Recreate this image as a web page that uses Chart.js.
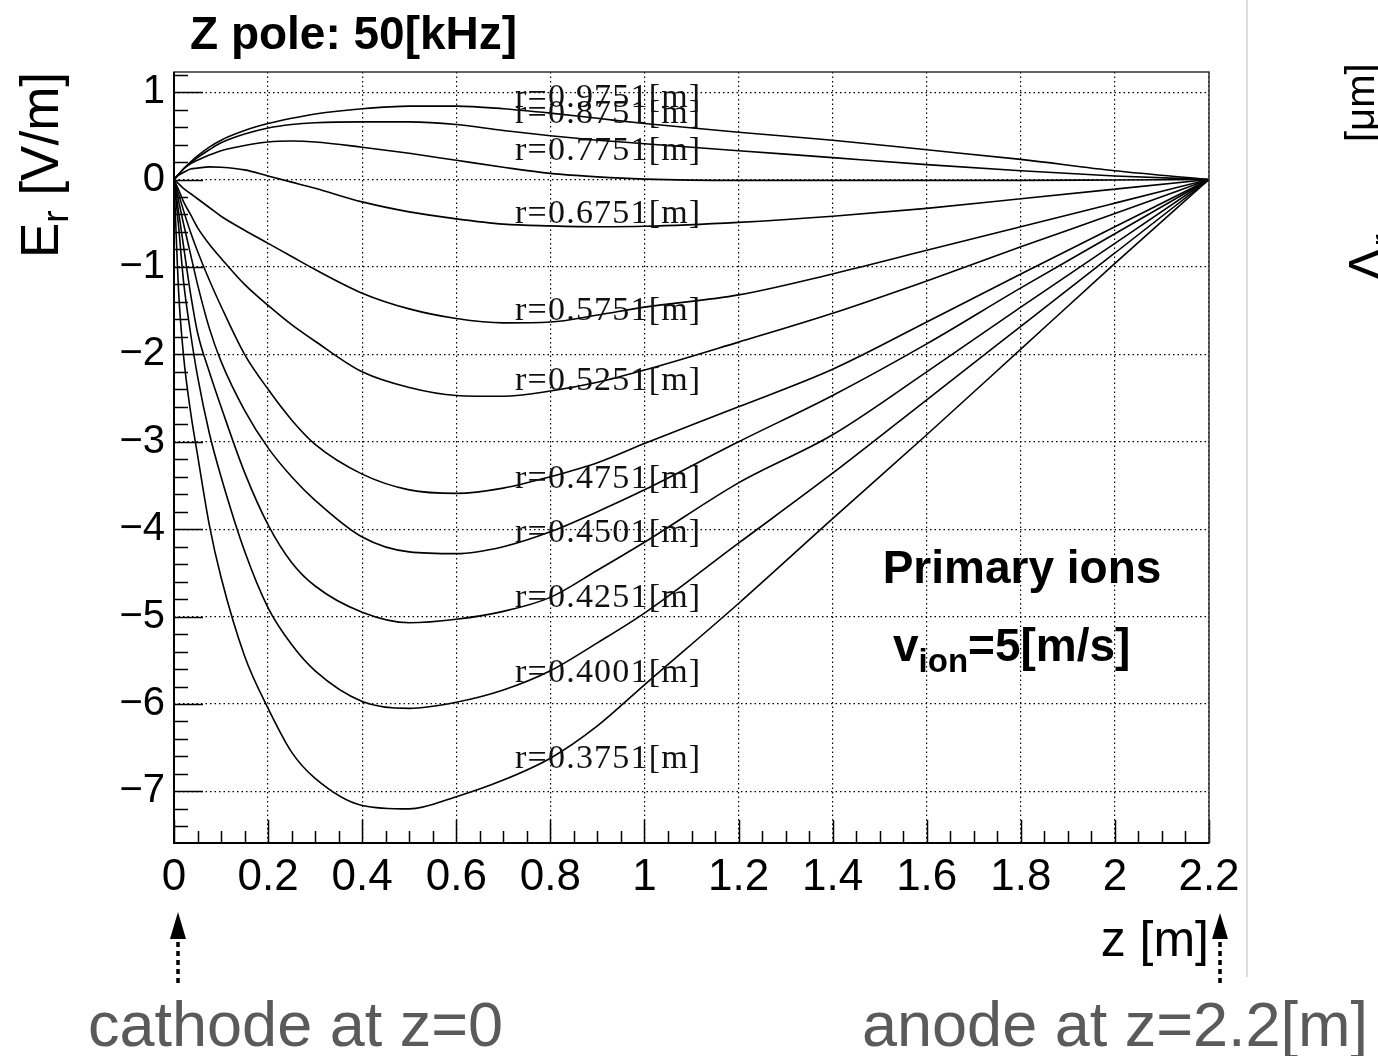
<!DOCTYPE html>
<html><head><meta charset="utf-8">
<script src="https://cdn.jsdelivr.net/npm/chart.js@4.4.1/dist/chart.umd.min.js"></script>
<style>html,body{margin:0;padding:0;background:#fff;} #wrap{position:relative;width:1378px;height:1056px;}</style>
</head><body><div id="wrap"><canvas id="c" width="1378" height="1056"></canvas></div>
<script>
// ---- data (z in m, E_r in V/m) ----
const zValues = [0, 0.01, 0.02, 0.035, 0.05, 0.075, 0.1, 0.15, 0.2, 0.25, 0.3, 0.4, 0.5, 0.6, 0.7, 0.8, 0.9, 1.0, 1.2, 1.4, 1.6, 1.8, 2.0, 2.2];
const er_r09751 = [0, 0.06, 0.12, 0.20, 0.27, 0.37, 0.45, 0.56, 0.64, 0.70, 0.75, 0.81, 0.84, 0.84, 0.81, 0.76, 0.70, 0.64, 0.54, 0.45, 0.34, 0.23, 0.10, 0];
const er_r08751 = [0, 0.06, 0.12, 0.19, 0.25, 0.34, 0.42, 0.52, 0.59, 0.63, 0.65, 0.66, 0.66, 0.63, 0.56, 0.50, 0.45, 0.41, 0.33, 0.25, 0.17, 0.10, 0.04, 0];
const er_r07751 = [0, 0.06, 0.12, 0.18, 0.22, 0.28, 0.33, 0.39, 0.43, 0.44, 0.43, 0.37, 0.30, 0.22, 0.14, 0.07, 0.03, 0.005, -0.01, -0.01, -0.01, -0.01, -0.005, 0];
const er_r06751 = [0, 0.05, 0.08, 0.12, 0.13, 0.145, 0.14, 0.11, 0.04, -0.03, -0.10, -0.256, -0.37, -0.45, -0.51, -0.53, -0.54, -0.535, -0.49, -0.42, -0.33, -0.22, -0.11, 0];
const er_r05751 = [0, -0.05, -0.10, -0.16, -0.22, -0.32, -0.42, -0.58, -0.73, -0.88, -1.03, -1.30, -1.48, -1.59, -1.64, -1.63, -1.55, -1.46, -1.32, -1.08, -0.81, -0.54, -0.27, 0];
const er_r05251 = [0, -0.12, -0.25, -0.40, -0.55, -0.74, -0.90, -1.20, -1.44, -1.66, -1.85, -2.20, -2.38, -2.47, -2.48, -2.42, -2.32, -2.18, -1.86, -1.53, -1.16, -0.77, -0.39, 0];
const er_r04751 = [0, -0.17, -0.35, -0.60, -0.82, -1.15, -1.45, -2.00, -2.40, -2.75, -3.03, -3.37, -3.55, -3.59, -3.53, -3.40, -3.24, -3.02, -2.60, -2.17, -1.63, -1.08, -0.54, 0];
const er_r04501 = [0, -0.25, -0.50, -0.85, -1.20, -1.70, -2.08, -2.64, -3.07, -3.40, -3.67, -4.09, -4.26, -4.28, -4.20, -4.03, -3.80, -3.55, -3.00, -2.47, -1.88, -1.24, -0.62, 0];
const er_r04251 = [0, -0.38, -0.75, -1.30, -1.75, -2.20, -2.60, -3.35, -3.95, -4.38, -4.65, -4.95, -5.07, -5.03, -4.94, -4.78, -4.47, -4.15, -3.47, -2.92, -2.20, -1.46, -0.73, 0];
const er_r04001 = [0, -0.55, -1.15, -1.75, -2.25, -2.90, -3.40, -4.25, -4.90, -5.32, -5.62, -5.97, -6.05, -5.98, -5.84, -5.62, -5.30, -4.96, -4.16, -3.36, -2.52, -1.68, -0.84, 0];
const er_r03751 = [0, -1.30, -2.00, -2.65, -3.15, -3.95, -4.55, -5.45, -6.05, -6.55, -6.85, -7.16, -7.20, -7.06, -6.87, -6.62, -6.25, -5.78, -4.85, -3.88, -2.92, -1.94, -0.96, 0];
const seriesNames = ['r=0.9751[m]', 'r=0.8751[m]', 'r=0.7751[m]', 'r=0.6751[m]', 'r=0.5751[m]', 'r=0.5251[m]', 'r=0.4751[m]', 'r=0.4501[m]', 'r=0.4251[m]', 'r=0.4001[m]', 'r=0.3751[m]'];
const seriesValues = [er_r09751, er_r08751, er_r07751, er_r06751, er_r05751, er_r05251, er_r04751, er_r04501, er_r04251, er_r04001, er_r03751];
// curve label anchors (E_r value of each label's baseline, at z = labelZ)
const labelZ = 0.725;
const labelBaseline = [0.833, 0.646, 0.223, -0.497, -1.608, -2.408, -3.529, -4.144, -4.888, -5.746, -6.737];
const xTickValues = [0, 0.2, 0.4, 0.6, 0.8, 1, 1.2, 1.4, 1.6, 1.8, 2, 2.2];
const xTickLabels = ['0', '0.2', '0.4', '0.6', '0.8', '1', '1.2', '1.4', '1.6', '1.8', '2', '2.2'];
const yTickValues = [-7, -6, -5, -4, -3, -2, -1, 0, 1];
const yTickLabels = ['\u22127', '\u22126', '\u22125', '\u22124', '\u22123', '\u22122', '\u22121', '0', '1'];

const SANS = '"Liberation Sans", Arial, Helvetica, sans-serif';
const SERIF = '"Liberation Serif", "Times New Roman", serif';

function drawRich(ctx, parts, x, y) {
  let cx = x;
  for (const p of parts) {
    ctx.font = p.font;
    ctx.fillText(p.t, cx, y + (p.dy || 0));
    cx += ctx.measureText(p.t).width;
  }
}

const decor = {
  id: 'decor',
  afterDraw(chart) {
    const ctx = chart.ctx;
    const {left, top, right, bottom} = chart.chartArea;
    const xs = chart.scales.x, ys = chart.scales.y;
    ctx.save();
    // inside ticks
    ctx.strokeStyle = '#000';
    ctx.lineWidth = 1.5;
    ctx.beginPath();
    for (let k = -38; k <= 6; k++) {
      const v = k * 0.2;
      if (v < ys.min || v > ys.max) continue;
      const py = Math.round(ys.getPixelForValue(v)) + 0.5;
      const major = Math.abs(v - Math.round(v)) < 1e-6;
      ctx.moveTo(left, py); ctx.lineTo(left + (major ? 29 : 14), py);
    }
    for (let k = 0; k <= 44; k++) {
      const v = k * 0.05;
      const px = Math.round(xs.getPixelForValue(v)) + 0.5;
      const major = (k % 4) === 0;
      ctx.moveTo(px, bottom); ctx.lineTo(px, bottom - (major ? 23 : 12));
    }
    ctx.stroke();
    // frame
    ctx.lineWidth = 1.5;
    ctx.strokeStyle = '#333';
    ctx.strokeRect(left, top, right - left, bottom - top);
    ctx.lineWidth = 2;
    ctx.strokeStyle = '#000';
    ctx.beginPath();
    ctx.moveTo(left, top); ctx.lineTo(left, bottom); ctx.lineTo(right, bottom);
    ctx.stroke();

    // curve labels
    ctx.fillStyle = '#111';
    ctx.font = '34px ' + SERIF;
    ctx.textAlign = 'left';
    ctx.textBaseline = 'alphabetic';
    try { ctx.letterSpacing = '1.2px'; } catch (e) {}
    const lx = xs.getPixelForValue(labelZ);
    seriesNames.forEach((n, i) => ctx.fillText(n, lx, ys.getPixelForValue(labelBaseline[i])));
    try { ctx.letterSpacing = '0px'; } catch (e) {}

    // title
    ctx.fillStyle = '#000';
    ctx.font = 'bold 46px ' + SANS;
    ctx.fillText('Z pole: 50[kHz]', 190, 49);

    // in-plot text
    ctx.font = 'bold 46px ' + SANS;
    ctx.textAlign = 'center';
    ctx.fillText('Primary ions', 1022, 583);
    ctx.textAlign = 'left';
    drawRich(ctx, [
      {t: 'v', font: 'bold 46px ' + SANS},
      {t: 'ion', font: 'bold 33px ' + SANS, dy: 11},
      {t: '=5[m/s]', font: 'bold 46px ' + SANS}
    ], 893, 661);

    // x title
    ctx.font = '50px ' + SANS;
    ctx.textAlign = 'right';
    ctx.fillText('z [m]', 1209, 956);
    ctx.textAlign = 'left';

    // y title (rotated)
    ctx.save();
    ctx.translate(58, 258);
    ctx.rotate(-Math.PI / 2);
    drawRich(ctx, [
      {t: 'E', font: '53px ' + SANS},
      {t: 'r', font: '37px ' + SANS, dy: 10},
      {t: ' [V/m]', font: '53px ' + SANS}
    ], 0, 0);
    ctx.restore();

    // arrows
    function arrow(ax, tipY, baseY, endY) {
      ctx.fillStyle = '#000';
      ctx.beginPath();
      ctx.moveTo(ax, tipY); ctx.lineTo(ax - 8, baseY); ctx.lineTo(ax + 8, baseY); ctx.closePath();
      ctx.fill();
      ctx.strokeStyle = '#000';
      ctx.lineWidth = 3.5;
      ctx.setLineDash([5, 4]);
      ctx.beginPath(); ctx.moveTo(ax, baseY + 3); ctx.lineTo(ax, endY); ctx.stroke();
      ctx.setLineDash([]);
    }
    arrow(xs.getPixelForValue(0) + 4, 912, 939, 987);
    arrow(xs.getPixelForValue(2.2) + 11, 913, 939, 987);

    // annotations
    ctx.fillStyle = '#5a5a5a';
    ctx.font = '63px ' + SANS;
    ctx.fillText('cathode at z=0', 88, 1046);
    ctx.fillText('anode at z=2.2[m]', 862, 1046);

    // separator of the neighbouring panel
    ctx.strokeStyle = '#dcdcdc';
    ctx.lineWidth = 2;
    ctx.beginPath(); ctx.moveTo(1247, 0); ctx.lineTo(1247, 977); ctx.stroke();

    // neighbouring panel's axis title (cut off at the page edge)
    ctx.save();
    ctx.fillStyle = '#000';
    ctx.translate(1386, 282);
    ctx.rotate(-Math.PI / 2);
    drawRich(ctx, [
      {t: '\u0394', font: '53px ' + SANS},
      {t: 'r', font: '37px ' + SANS, dy: 10}
    ], 0, 0);
    ctx.restore();
    ctx.save();
    ctx.fillStyle = '#000';
    ctx.translate(1374, 142);
    ctx.rotate(-Math.PI / 2);
    ctx.font = '40px ' + SANS;
    ctx.fillText('[\u03bcm]', 0, 0);
    ctx.restore();

    ctx.restore();
  }
};

const datasets = seriesValues.map((vals, i) => ({
  label: seriesNames[i],
  data: zValues.map((z, j) => ({x: z, y: vals[j]})),
  showLine: true,
  borderColor: '#000',
  backgroundColor: '#000',
  borderWidth: 1.6,
  pointRadius: 0,
  cubicInterpolationMode: 'monotone',
  fill: false
}));

new Chart(document.getElementById('c').getContext('2d'), {
  type: 'scatter',
  data: {datasets},
  options: {
    responsive: false,
    animation: false,
    devicePixelRatio: 1,
    layout: {padding: {left: 0, top: 72, right: 169, bottom: 0}},
    plugins: {legend: {display: false}, tooltip: {enabled: false}, title: {display: false}},
    scales: {
      x: {
        type: 'linear', position: 'bottom', min: 0, max: 2.2,
        afterBuildTicks: s => { s.ticks = xTickValues.map(v => ({value: v})); },
        afterFit: s => { s.height = 1056 - 843; },
        grid: {display: true, drawOnChartArea: true, drawTicks: false, color: '#000', lineWidth: 1.2},
        border: {display: false, dash: [1.5, 3]},
        ticks: {font: {family: SANS, size: 44}, color: '#000', padding: 8, maxRotation: 0, autoSkip: false,
                callback: (v, i) => xTickLabels[i]}
      },
      y: {
        type: 'linear', position: 'left', min: -7.59, max: 1.23,
        afterBuildTicks: s => { s.ticks = yTickValues.map(v => ({value: v})); },
        afterFit: s => { s.width = 174; },
        grid: {display: true, drawOnChartArea: true, drawTicks: false, color: '#000', lineWidth: 1.2},
        border: {display: false, dash: [1.5, 3]},
        ticks: {font: {family: SANS, size: 40}, color: '#000', padding: 9, autoSkip: false,
                callback: (v, i) => yTickLabels[i]}
      }
    }
  },
  plugins: [decor]
});
</script>
</body></html>
